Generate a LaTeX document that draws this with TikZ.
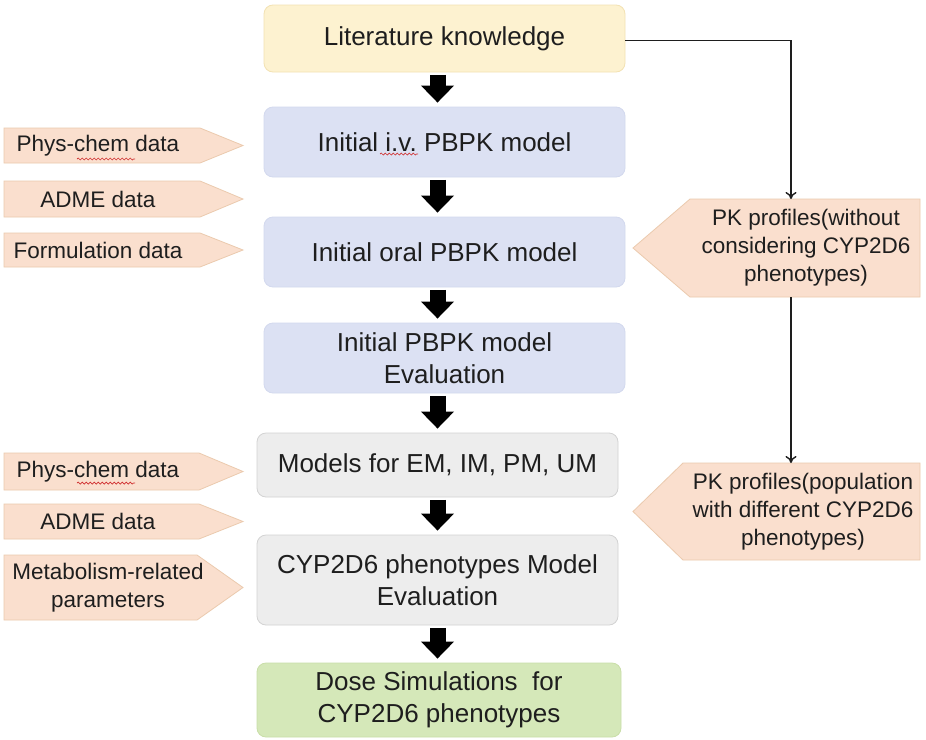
\documentclass[tikz,border=0pt]{standalone}
\usepackage{fontspec}
\setmainfont{Liberation Sans}
\frenchspacing
\usetikzlibrary{arrows.meta,calc,decorations.pathmorphing}
\definecolor{litfill}{HTML}{FDF2D0}
\definecolor{litdraw}{HTML}{F3E2B3}
\definecolor{bluefill}{HTML}{DCE1F3}
\definecolor{bluedraw}{HTML}{D3D9EE}
\definecolor{grayfill}{HTML}{EDEDED}
\definecolor{graydraw}{HTML}{D3D3D3}
\definecolor{greenfill}{HTML}{D5E8B9}
\definecolor{greendraw}{HTML}{C9DEA8}
\definecolor{pentfill}{HTML}{FADFCE}
\definecolor{pentdraw}{HTML}{EBCAAE}
\definecolor{txt}{HTML}{1E1E1E}
\definecolor{squigred}{HTML}{D03030}
\newcommand\leftpent[3]{%
  \filldraw[pent] (4,#1) -- (#3,#1) -- (243,{(#1+#2)/2}) -- (#3,#2) -- (4,#2) -- cycle;}
\newcommand\rightpent[3]{%
  \filldraw[pent] (633,{(#1+#2)/2}) -- (#3,#1) -- (920,#1) -- (920,#2) -- (#3,#2) -- cycle;}
\begin{document}
\begin{tikzpicture}[x=1pt,y=-1pt,
  box/.style={rounded corners=9pt, minimum width=361pt, inner sep=0pt, align=center,
    font=\fontsize{26}{31.5}\selectfont, text=txt, line width=0.8pt},
  litbox/.style={box, fill=litfill, draw=litdraw},
  bluebox/.style={box, fill=bluefill, draw=bluedraw},
  graybox/.style={box, fill=grayfill, draw=graydraw},
  greenbox/.style={box, fill=greenfill, draw=greendraw},
  blk/.style={draw=black, line width=16pt, -{Triangle[width=32pt,length=17pt]}},
  conn/.style={draw=txt, line width=1.4pt, -{To[length=7pt,width=11pt]}},
  pent/.style={fill=pentfill, draw=pentdraw, line width=0.8pt},
  side/.style={font=\fontsize{22.5}{28}\selectfont, text=txt, align=center, inner sep=0pt},
  squig/.style={draw=squigred, line width=0.7pt, decorate,
    decoration={snake, amplitude=1pt, segment length=4pt}}
]
\useasboundingbox (0,0) rectangle (926,739);
\fill[white] (0,0) rectangle (926,739);

% main column
\node[litbox, minimum height=67pt] (lit) at (444.5,38.5) {Literature knowledge};
\node[bluebox, minimum height=70pt] (iv) at (444.5,142) {Initial i.v. PBPK model};
\node[bluebox, minimum height=70pt] (oral) at (444.5,252) {Initial oral PBPK model};
\node[bluebox, minimum height=70pt] (eval) at (444.5,358) {Initial PBPK model\\Evaluation};
\node[graybox, minimum height=64pt] (models) at (437.5,465) {Models for EM, IM, PM, UM};
\node[graybox, minimum height=90pt] (cyp) at (437.5,580) {CYP2D6 phenotypes Model\\Evaluation};
\node[greenbox, minimum height=74pt, minimum width=364pt] (dose) at (439,700) {Dose Simulations\ \ for\\CYP2D6 phenotypes};

\coordinate (ax) at (437.5,0);
\foreach \a/\b in {lit/iv, iv/oral, oral/eval, eval/models, models/cyp, cyp/dose}{
  \draw[blk] ($(\a.south -| ax)+(0,2.5)$) -- ($(\b.north -| ax)+(0,-4)$);
}

% left inputs
\leftpent{128}{163}{200}
\leftpent{181}{217}{200}
\leftpent{233}{267}{200}
\leftpent{453}{490}{199}
\leftpent{504}{539}{199}
\leftpent{555}{620}{197}
\node[side] (pc1) at (98,145.5) {Phys-chem data};
\node[side] (adme1) at (98,199) {ADME data};
\node[side] (form) at (98,250) {Formulation data};
\node[side] (pc2) at (98,471.5) {Phys-chem data};
\node[side] (adme2) at (98,521.5) {ADME data};
\node[side] (metab) at (108,587.5) {Metabolism-related\\parameters};

% right inputs
\rightpent{199}{297}{690}
\rightpent{463}{560}{683}
\node[side] (pk1) at (806,248) {PK profiles(without\\considering CYP2D6\\phenotypes)};
\node[side] (pk2) at (803,511.5) {PK profiles(population\\with different CYP2D6\\phenotypes)};

\coordinate (pk1top) at (791,199);
\coordinate (pk1bot) at (791,297);
\coordinate (pk2top) at (791,463);
\draw[conn] ([yshift=-2pt]lit.east) -| (pk1top);
\draw[conn] (pk1bot) -- (pk2top);

% spell-check squiggles
\draw[squig] (77,159) -- (135,159);
\draw[squig] (77,483) -- (135,483);
\draw[squig] (380,154) -- (418,154);
\end{tikzpicture}
\end{document}
